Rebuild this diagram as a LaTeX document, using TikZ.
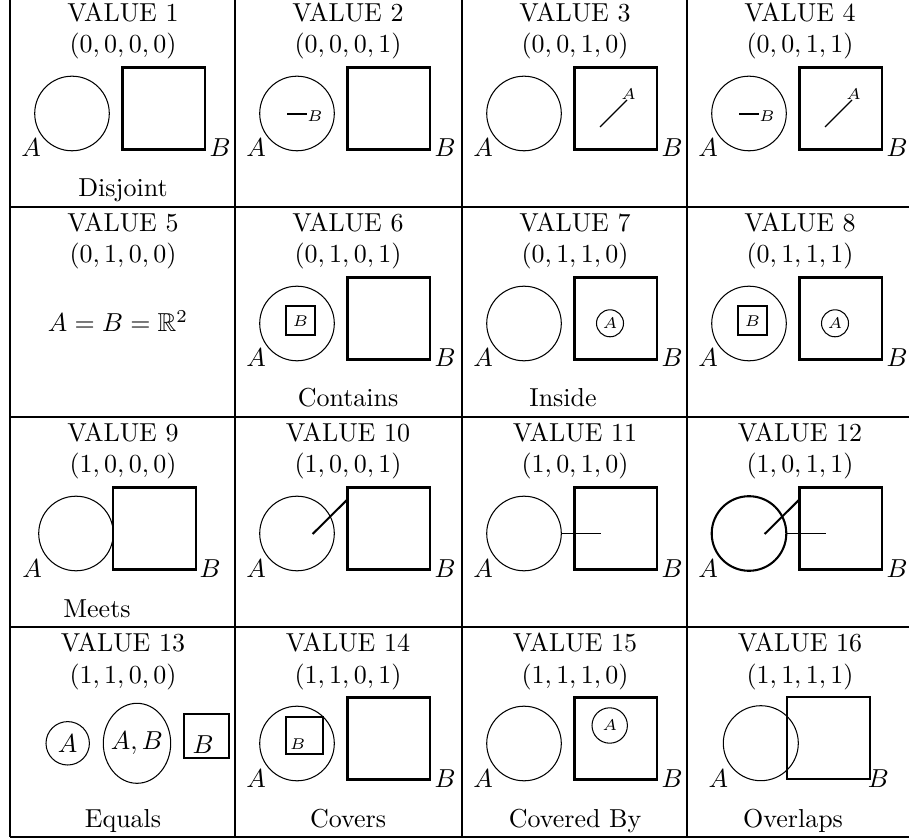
\documentclass[tikz,border=0pt]{standalone}
\usepackage{amssymb}
\begin{document}
\begin{tikzpicture}[x=0.385pt,y=-0.385pt,
  gridline/.style={line width=0.4pt},
  circa/.style={line width=0.4pt},
  sqb/.style={line width=0.8pt},
  bold/.style={line width=0.8pt},
  thinl/.style={line width=0.5pt},
  lbl/.style={inner sep=0pt, anchor=base},
  small/.style={inner sep=0pt, font=\fontsize{6}{7}\selectfont}]
\useasboundingbox (0,0) rectangle (909,839);
\clip (0,0) rectangle (909,839);
% grid
\foreach \x in {10,235,462,687,913} \draw[gridline] (\x,-3) -- (\x,837);
\foreach \y in {-3,207,417,627,837} \draw[gridline] (10,\y) -- (913,\y);
% macros
\newcommand\celltitle[3]{%
  \node[lbl] (t#1) at (113,24.7) {VALUE #1};
  \node[lbl] (v#1) at (113,56) {$#2$};
  \node[lbl] (n#1) at (113,200) {#3};}
\newcommand\stdpair[1]{%
  \draw[circa] (62,116.5) circle[radius=37.3];
  \draw[sqb] (112.5,70.5) rectangle (195,152.5);
  \node[lbl] (a#1) at (21,160) {$A$};
  \node[lbl] (b#1) at (210,160) {$B$};}
\newcommand\bseg[1]{%
  \coordinate (bs#1) at (52,117); \coordinate (be#1) at (72,117);
  \draw[bold] (bs#1) -- (be#1);
  \node[small] (bl#1) at (80,119.5) {$B$};}
\newcommand\aseg[1]{%
  \coordinate (as#1) at (138,130); \coordinate (ae#1) at (165,103);
  \draw[thinl] (as#1) -- (ae#1);
  \node[small] (al#1) at (166.5,97) {$A$};}
\newcommand\bbox[1]{%
  \draw[sqb] (50.7,99) rectangle (80.3,128);
  \node[small] (bb#1) at (65.5,114) {$B$};}
\newcommand\acirc[1]{%
  \draw[circa] (148,116.3) circle[radius=13.5];
  \node[small] (ac#1) at (148,116.3) {$A$};}
% row 1
\begin{scope}[shift={(10,-3)}]
  \celltitle{1}{(0,0,0,0)}{Disjoint}\stdpair{1}
\end{scope}
\begin{scope}[shift={(235,-3)}]
  \celltitle{2}{(0,0,0,1)}{}\stdpair{2}\bseg{2}
\end{scope}
\begin{scope}[shift={(462,-3)}]
  \celltitle{3}{(0,0,1,0)}{}\stdpair{3}\aseg{3}
\end{scope}
\begin{scope}[shift={(687,-3)}]
  \celltitle{4}{(0,0,1,1)}{}\stdpair{4}\bseg{4}\aseg{4}
\end{scope}
% row 2
\begin{scope}[shift={(10,207)}]
  \celltitle{5}{(0,1,0,0)}{}
  \node[inner sep=0pt] (eq5) at (108,114) {$A=B=\mathbb{R}^2$};
\end{scope}
\begin{scope}[shift={(235,207)}]
  \celltitle{6}{(0,1,0,1)}{Contains}\stdpair{6}\bbox{6}
\end{scope}
\begin{scope}[shift={(462,207)}]
  \celltitle{7}{(0,1,1,0)}{}\stdpair{7}\acirc{7}
  \node[lbl] (n7) at (101,200) {Inside};
\end{scope}
\begin{scope}[shift={(687,207)}]
  \celltitle{8}{(0,1,1,1)}{}\stdpair{8}\bbox{8}\acirc{8}
\end{scope}
% row 3
\begin{scope}[shift={(10,417)}]
  \celltitle{9}{(1,0,0,0)}{}
  \draw[circa] (66,116.5) circle[radius=37.3];
  \draw[sqb] (103.3,70.5) rectangle (186,152.5);
  \node[lbl] (a9) at (22,160) {$A$};
  \node[lbl] (b9) at (200,160) {$B$};
  \node[lbl] (n9) at (87,200) {Meets};
\end{scope}
\begin{scope}[shift={(235,417)}]
  \celltitle{10}{(1,0,0,1)}{}\stdpair{10}
  \coordinate (p10) at (77.7,117); \coordinate (q10) at (112.5,82.3);
  \draw[bold] (p10) -- (q10);
\end{scope}
\begin{scope}[shift={(462,417)}]
  \celltitle{11}{(1,0,1,0)}{}\stdpair{11}
  \coordinate (p11) at (99.3,116.5); \coordinate (q11) at (139,116.5);
  \draw[circa] (p11) -- (q11);
\end{scope}
\begin{scope}[shift={(687,417)}]
  \celltitle{12}{(1,0,1,1)}{}
  \draw[bold] (62,116.5) circle[radius=37.3];
  \draw[sqb] (112.5,70.5) rectangle (195,152.5);
  \node[lbl] (a12) at (21,160) {$A$};
  \node[lbl] (b12) at (210,160) {$B$};
  \coordinate (p12) at (77.7,117); \coordinate (q12) at (112.5,82.3);
  \draw[bold] (p12) -- (q12);
  \coordinate (r12) at (99.3,116.5); \coordinate (s12) at (139,116.5);
  \draw[circa] (r12) -- (s12);
\end{scope}
% row 4
\begin{scope}[shift={(10,627)}]
  \celltitle{13}{(1,1,0,0)}{Equals}
  \draw[circa] (57.7,116.3) circle[radius=21.7];
  \node[inner sep=0pt] (ca13) at (57.7,116.3) {$A$};
  \draw[circa] (127,116.3) ellipse[x radius=33.7, y radius=40];
  \node[inner sep=0pt] (cab13) at (127,116.3) {$A,B$};
  \draw[sqb] (173.7,87) rectangle (219.3,131.3);
  \node[inner sep=0pt] (sb13) at (193,118) {$B$};
\end{scope}
\begin{scope}[shift={(235,627)}]
  \celltitle{14}{(1,1,0,1)}{Covers}\stdpair{14}
  \draw[sqb] (50.7,90.3) rectangle (88.3,127.3);
  \node[small] (bb14) at (62.7,117.5) {$B$};
\end{scope}
\begin{scope}[shift={(462,627)}]
  \celltitle{15}{(1,1,1,0)}{Covered By}\stdpair{15}
  \draw[circa] (147.7,98.5) circle[radius=17.7];
  \node[small] (ac15) at (147.7,98.5) {$A$};
\end{scope}
\begin{scope}[shift={(687,627)}]
  \celltitle{16}{(1,1,1,1)}{}
  \draw[circa] (73.8,116.2) circle[radius=37.5];
  \draw[sqb] (100.3,69.7) rectangle (183,152);
  \node[lbl] (a16) at (31.3,160) {$A$};
  \node[lbl] (b16) at (191.3,160) {$B$};
  \node[lbl] (n16) at (106,200) {Overlaps};
\end{scope}
\end{tikzpicture}
\end{document}
